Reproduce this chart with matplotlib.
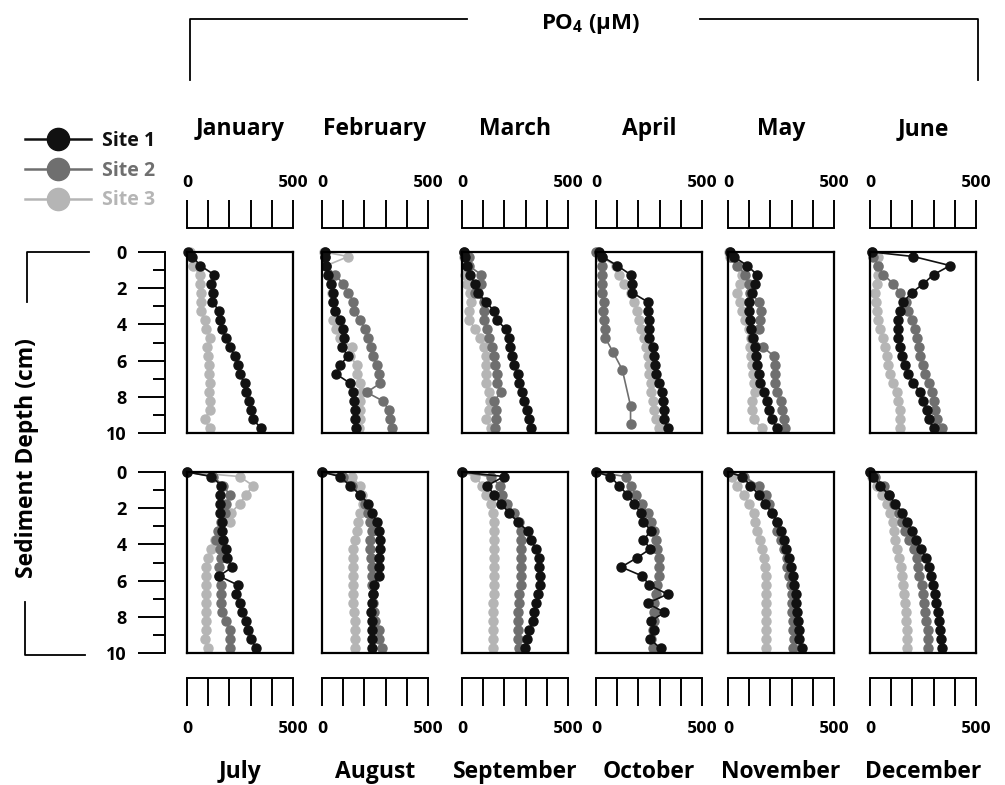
import matplotlib.pyplot as plt
from matplotlib.lines import Line2D

plt.rcParams['font.family'] = ['Open Sans', 'DejaVu Sans']
plt.rcParams['mathtext.fontset'] = 'custom'
plt.rcParams['mathtext.rm'] = 'Open Sans'
plt.rcParams['mathtext.bf'] = 'Open Sans:bold'

# sampling depths (cm)
depth = [0, 0.25, 0.75, 1.25, 1.75, 2.25, 2.75, 3.25, 3.75, 4.25, 4.75,
         5.25, 5.75, 6.25, 6.75, 7.25, 7.75, 8.25, 8.75, 9.25, 9.75]
depth_apr_site2 = [0, 0.25, 0.75, 1.25, 1.75, 2.25, 2.75, 3.25, 3.75, 4.25,
                   4.75, 5.5, 6.5, 8.5, 9.5]

months = ['January', 'February', 'March', 'April', 'May', 'June',
          'July', 'August', 'September', 'October', 'November', 'December']

# PO4 (uM) per site and month
site1 = {
    'January':   [5, 25, 63, 127, 115, 123, 119, 151, 157, 167, 182, 204, 225, 242, 248, 272, 280, 292, 303, 311, 351],
    'February':  [16, 16, 20, 29, 44, 52, 52, 60, 84, 100, 105, 92, 124, 84, 68, 132, 148, 151, 156, 156, 160],
    'March':     [11, 16, 24, 40, 59, 75, 111, 151, 163, 206, 222, 227, 238, 246, 262, 270, 281, 294, 306, 317, 325],
    'April':     [13, 29, 100, 163, 171, 171, 243, 246, 251, 251, 251, 267, 275, 278, 282, 298, 309, 314, 322, 322, 338],
    'May':       [11, 27, 90, 137, 129, 114, 98, 101, 106, 110, 117, 126, 132, 137, 145, 153, 169, 185, 192, 208, 232],
    'June':      [8, 205, 378, 300, 252, 197, 158, 142, 134, 131, 134, 142, 150, 166, 181, 205, 237, 252, 268, 276, 300],
    'July':      [0, 115, 162, 157, 157, 157, 167, 167, 170, 182, 189, 214, 151, 241, 233, 248, 261, 280, 288, 303, 327],
    'August':    [0, 84, 132, 179, 219, 235, 259, 271, 275, 275, 267, 271, 267, 243, 240, 235, 230, 235, 235, 235, 235],
    'September': [0, 198, 119, 151, 183, 222, 262, 309, 325, 349, 365, 365, 370, 370, 360, 349, 341, 333, 317, 306, 297],
    'October':   [0, 68, 108, 148, 179, 211, 224, 259, 224, 256, 192, 119, 219, 251, 338, 243, 322, 259, 275, 256, 306],
    'November':  [0, 66, 106, 145, 173, 208, 232, 248, 263, 274, 287, 295, 306, 311, 319, 322, 326, 331, 334, 337, 347],
    'December':  [0, 16, 48, 88, 120, 152, 176, 200, 216, 240, 264, 280, 289, 297, 305, 313, 321, 324, 329, 337, 340],
}
site2 = {
    'January':   None,
    'February':  [13, 16, 21, 60, 100, 124, 148, 151, 179, 203, 219, 230, 240, 259, 271, 275, 211, 290, 314, 322, 330],
    'March':     [8, 32, 32, 90, 90, 63, 103, 103, 103, 119, 127, 143, 151, 154, 167, 163, 183, 151, 159, 159, 154],
    'April':     [0, 29, 29, 29, 29, 29, 36, 33, 40, 41, 44, 79, 124, 163, 163],
    'May':       [11, 16, 43, 82, 98, 106, 145, 158, 153, 145, 114, 165, 216, 221, 224, 224, 232, 248, 255, 263, 271],
    'June':      [8, 16, 39, 63, 110, 142, 169, 181, 197, 213, 221, 229, 237, 252, 260, 276, 292, 300, 308, 315, 339],
    'July':      [0, 123, 170, 201, 185, 178, 162, 146, 138, 154, 162, 151, 151, 162, 162, 162, 167, 185, 201, 201, 201],
    'August':    [0, 100, 140, 179, 203, 219, 227, 235, 227, 227, 230, 235, 235, 235, 240, 240, 243, 251, 267, 271, 282],
    'September': [0, 135, 179, 190, 214, 246, 270, 278, 278, 278, 278, 278, 278, 278, 270, 270, 262, 262, 262, 262, 270],
    'October':   [0, 140, 163, 187, 219, 243, 259, 275, 282, 290, 298, 298, 298, 290, 282, 275, 275, 275, 267, 259, 267],
    'November':  [0, 74, 145, 177, 192, 208, 232, 232, 252, 263, 279, 279, 287, 295, 300, 300, 303, 306, 306, 311, 306],
    'December':  [0, 24, 64, 88, 112, 136, 152, 164, 184, 208, 221, 228, 232, 244, 248, 256, 260, 264, 273, 273, 273],
}
site3 = {
    'January':   [13, 20, 28, 60, 63, 68, 68, 68, 83, 91, 110, 94, 99, 104, 104, 107, 104, 107, 107, 83, 107],
    'February':  [10, 124, 21, 29, 44, 48, 52, 60, 52, 68, 84, 140, 132, 164, 164, 179, 187, 179, 179, 179, 176],
    'March':     [11, 11, 21, 16, 24, 40, 43, 32, 32, 63, 87, 103, 111, 111, 111, 111, 127, 130, 127, 111, 135],
    'April':     [8, 21, 92, 108, 132, 163, 179, 195, 203, 211, 227, 235, 243, 251, 251, 259, 259, 267, 274, 282, 298],
    'May':       [5, 11, 58, 66, 58, 43, 58, 66, 82, 98, 110, 106, 110, 114, 117, 121, 129, 114, 114, 121, 161],
    'June':      [8, 39, 39, 36, 32, 24, 27, 32, 39, 47, 63, 71, 79, 87, 95, 110, 126, 134, 142, 142, 142],
    'July':      [0, 248, 311, 280, 248, 209, 204, 151, 130, 115, 99, 91, 91, 91, 91, 91, 91, 91, 88, 83, 99],
    'August':    [0, 140, 179, 187, 192, 179, 171, 163, 156, 148, 144, 144, 144, 144, 144, 148, 151, 156, 156, 156, 156],
    'September': [0, 63, 95, 111, 135, 148, 151, 153, 153, 151, 153, 151, 153, 151, 151, 148, 148, 148, 148, 146, 146],
    'October':   None,
    'November':  [0, 19, 43, 74, 98, 121, 129, 137, 153, 161, 169, 173, 177, 177, 177, 177, 177, 177, 177, 177, 177],
    'December':  [0, 8, 32, 56, 80, 96, 109, 112, 120, 128, 136, 144, 152, 157, 160, 164, 168, 168, 173, 173, 173],
}

site_names = ['Site 1', 'Site 2', 'Site 3']
site_colors = ['#111111', '#6f6f6f', '#b5b5b5']

W, H = 1005, 785
fig = plt.figure(figsize=(W / 100, H / 100), dpi=100)


def box(x0, y0, x1, y1):
    return [x0 / W, 1 - y1 / H, (x1 - x0) / W, (y1 - y0) / H]


def fig_line(xs, ys, lw=1.3):
    fig.add_artist(Line2D([x / W for x in xs], [1 - y / H for y in ys],
                          transform=fig.transFigure, color='black', lw=lw))


col_left = [187, 322, 462, 596, 728, 870]
col_w = 106
rows = [(252, 433), (472, 653)]

for i, m in enumerate(months):
    r, c = divmod(i, 6)
    x0 = col_left[c]
    y0, y1 = rows[r]
    ax = fig.add_axes(box(x0, y0, x0 + col_w, y1))
    for data, col in zip([site3, site2, site1], site_colors[::-1]):
        vals = data[m]
        if vals is None:
            continue
        d = depth_apr_site2 if len(vals) == len(depth_apr_site2) else depth
        ax.plot(vals, d, '-o', color=col, lw=1.2, ms=6.5, clip_on=False)
    ax.set_xlim(0, 500)
    ax.set_ylim(10, 0)
    ax.set_xticks([])
    ax.set_yticks([])
    for s in ax.spines.values():
        s.set_linewidth(1.6)

    # separate scale bar with ticks
    if r == 0:
        sax = fig.add_axes(box(x0, 200, x0 + col_w, 228))
        sax.spines[['top', 'left', 'right']].set_visible(False)
        sax.spines['bottom'].set_linewidth(1.4)
        sax.tick_params(axis='x', direction='in', length=20, width=1.4,
                        labelbottom=False)
        ylab = 1.62
        mlab_y = 129
    else:
        sax = fig.add_axes(box(x0, 678, x0 + col_w, 706))
        sax.spines[['bottom', 'left', 'right']].set_visible(False)
        sax.spines['top'].set_linewidth(1.4)
        sax.xaxis.set_ticks_position('top')
        sax.tick_params(axis='x', direction='in', length=20, width=1.4,
                        labeltop=False)
        ylab = -0.8
        mlab_y = 772
    sax.set_xlim(0, 500)
    sax.set_xticks(range(0, 501, 100))
    sax.set_yticks([])
    sax.patch.set_alpha(0)
    for v in (0, 500):
        sax.text(v, ylab, str(v), transform=sax.get_xaxis_transform(),
                 ha='center', va='center', fontsize=10.5, fontweight='bold',
                 family='DejaVu Sans')
    fig.text((x0 + col_w / 2) / W, 1 - mlab_y / H, m, ha='center', va='center',
             fontsize=16.5, fontweight='bold')

# depth axes on the left
for y0, y1 in rows:
    yax = fig.add_axes(box(165, y0, 175, y1))
    yax.set_ylim(10, 0)
    yax.set_xticks([])
    yax.set_yticks(range(0, 11, 2))
    yax.set_yticks(range(1, 10, 2), minor=True)
    yax.spines[['top', 'bottom', 'right']].set_visible(False)
    yax.spines['left'].set_linewidth(1.4)
    yax.tick_params(axis='y', which='major', direction='out', length=19.5,
                    width=1.4, pad=8, labelsize=13)
    yax.tick_params(axis='y', which='minor', direction='out', length=8.5,
                    width=1.4)
    for t in yax.get_yticklabels():
        t.set_fontweight('bold')
    yax.patch.set_alpha(0)

fig.text(27 / W, 1 - 458 / H, 'Sediment Depth (cm)', rotation=90,
         ha='center', va='center', fontsize=16.5, fontweight='bold')
fig_line([89, 27, 27], [252, 252, 302])
fig_line([25, 25, 85], [602, 655, 655])

# top title bracket
fig.text(590 / W, 1 - 24 / H, r'PO$_{\mathbf{4}}$ (µM)', ha='center',
         va='center', fontsize=16, fontweight='bold')
fig_line([190, 190, 467], [80, 19, 19])
fig_line([700, 978, 978], [19, 19, 80])

# legend
handles = [Line2D([], [], color=c, lw=1.8, marker='o', ms=16)
           for c in site_colors]
fig.legend(handles, site_names, loc='upper left',
           bbox_to_anchor=(25 / W, 1 - 131 / H), frameon=False,
           borderpad=0, borderaxespad=0, handlelength=3.4,
           handletextpad=0.55, labelspacing=0.5, labelcolor='linecolor',
           prop={'weight': 'bold', 'size': 14})

fig.savefig('out.png', dpi=100)
